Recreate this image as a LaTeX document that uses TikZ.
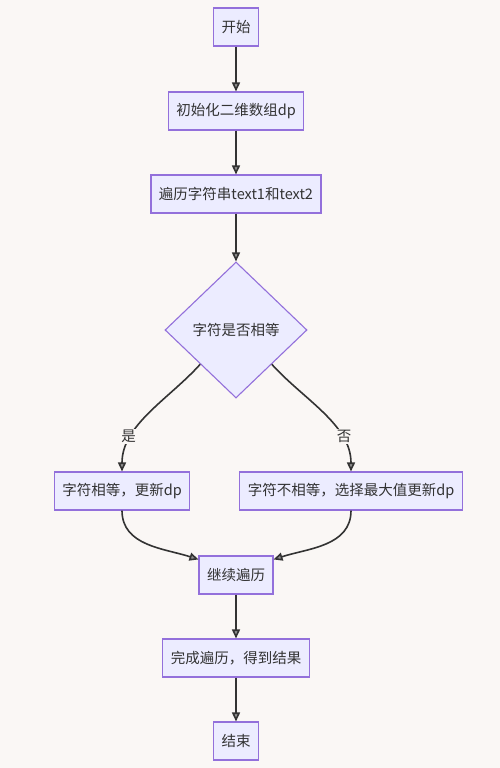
\documentclass[tikz,border=0pt]{standalone}
\usepackage{fontspec}
\newfontfamily\cjk{Noto Sans CJK SC}
\usetikzlibrary{shapes.geometric,arrows.meta}
\definecolor{flowbg}{RGB}{250,247,245}
\definecolor{flowfill}{RGB}{236,236,255}
\definecolor{flowborder}{RGB}{147,112,219}
\definecolor{flowline}{RGB}{51,51,51}

\begin{document}
\begin{tikzpicture}[x=1pt, y=1pt,
    box/.style={draw=flowborder, fill=flowfill, line width=1.1pt, minimum height=38pt,
        inner xsep=8pt, text=flowline, font=\cjk\fontsize{14.5}{17}\selectfont},
    decision/.style={box, diamond, minimum width=142pt, minimum height=136pt},
    arr/.style={-{Triangle[length=9pt, width=8pt, fill=flowline!55]}, line width=1.6pt, draw=flowline},
    lbl/.style={text=flowline, fill=flowbg, inner sep=1pt, font=\cjk\fontsize{14.5}{17}\selectfont}]
    % Background
    \fill[flowbg] (0,0) rectangle (500,-768);

    % Boxes
    \node[box] (start) at (236,-27) {开始};
    \node[box] (init) at (236,-111) {初始化二维数组dp};
    \node[box] (scan) at (236,-194) {遍历字符串text1和text2};
    \node[decision] (cmp) at (236,-330) {字符是否相等};
    \node[box] (same) at (122,-491) {字符相等，更新dp};
    \node[box] (diff) at (351,-491) {字符不相等，选择最大值更新dp};
    \node[box] (cont) at (236,-575) {继续遍历};
    \node[box] (done) at (236,-658) {完成遍历，得到结果};
    \node[box] (stop) at (236,-741) {结束};

    % Arrows
    \draw[arr] (start) -- (init);
    \draw[arr] (init) -- (scan);
    \draw[arr] (scan) -- (cmp);
    \draw[arr] (cmp.south west) to[out=-132, in=90, looseness=0.9] node[lbl, pos=0.72, xshift=-3pt] {是} (same.north);
    \draw[arr] (cmp.south east) to[out=-48, in=90, looseness=0.9] node[lbl, pos=0.72, xshift=3pt] {否} (diff.north);
    \draw[arr] (same.south) to[out=-90, in=162] ([yshift=-4pt]cont.north west);
    \draw[arr] (diff.south) to[out=-90, in=18] ([yshift=-4pt]cont.north east);
    \draw[arr] (cont) -- (done);
    \draw[arr] (done) -- (stop);
\end{tikzpicture}
\end{document}
